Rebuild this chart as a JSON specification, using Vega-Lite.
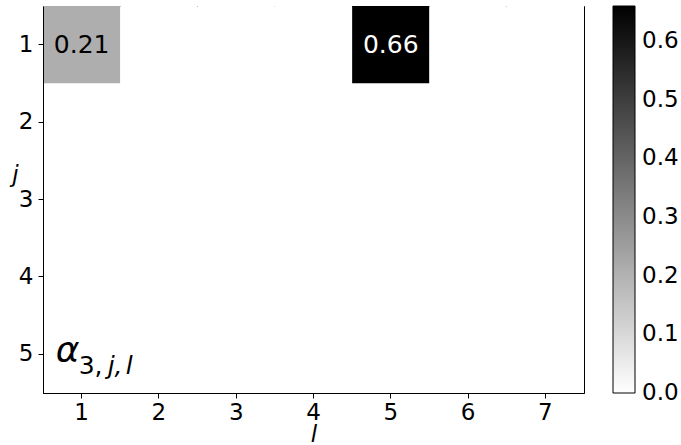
{
  "$schema": "https://vega.github.io/schema/vega-lite/v6.json",
  "width": 541,
  "height": 387,
  "autosize": "none",
  "padding": {"left": 43, "top": 6, "right": 97, "bottom": 52},
  "background": "white",
  "config": {
    "font": "DejaVu Sans",
    "view": {"stroke": "black", "strokeWidth": 1},
    "axis": {
      "labelFont": "DejaVu Sans",
      "titleFont": "DejaVu Sans",
      "labelFontSize": 23,
      "titleFontSize": 23,
      "labelColor": "black",
      "titleColor": "black",
      "domainColor": "black",
      "tickColor": "black",
      "tickSize": 5,
      "grid": false,
      "titleFontWeight": "normal"
    },
    "legend": {
      "labelFont": "DejaVu Sans",
      "labelFontSize": 23,
      "labelColor": "black"
    }
  },
  "datasets": {
    "cells": [
      {"l": 1, "j": 1, "v": 0.21}, {"l": 2, "j": 1, "v": 0}, {"l": 3, "j": 1, "v": 0}, {"l": 4, "j": 1, "v": 0}, {"l": 5, "j": 1, "v": 0.66}, {"l": 6, "j": 1, "v": 0}, {"l": 7, "j": 1, "v": 0},
      {"l": 1, "j": 2, "v": 0}, {"l": 2, "j": 2, "v": 0}, {"l": 3, "j": 2, "v": 0}, {"l": 4, "j": 2, "v": 0}, {"l": 5, "j": 2, "v": 0}, {"l": 6, "j": 2, "v": 0}, {"l": 7, "j": 2, "v": 0},
      {"l": 1, "j": 3, "v": 0}, {"l": 2, "j": 3, "v": 0}, {"l": 3, "j": 3, "v": 0}, {"l": 4, "j": 3, "v": 0}, {"l": 5, "j": 3, "v": 0}, {"l": 6, "j": 3, "v": 0}, {"l": 7, "j": 3, "v": 0},
      {"l": 1, "j": 4, "v": 0}, {"l": 2, "j": 4, "v": 0}, {"l": 3, "j": 4, "v": 0}, {"l": 4, "j": 4, "v": 0}, {"l": 5, "j": 4, "v": 0}, {"l": 6, "j": 4, "v": 0}, {"l": 7, "j": 4, "v": 0},
      {"l": 1, "j": 5, "v": 0}, {"l": 2, "j": 5, "v": 0}, {"l": 3, "j": 5, "v": 0}, {"l": 4, "j": 5, "v": 0}, {"l": 5, "j": 5, "v": 0}, {"l": 6, "j": 5, "v": 0}, {"l": 7, "j": 5, "v": 0}
    ]
  },
  "encoding": {
    "x": {
      "field": "l", "type": "ordinal",
      "scale": {"domain": [1, 2, 3, 4, 5, 6, 7], "paddingInner": 0, "paddingOuter": 0},
      "axis": {"title": "l", "labelAngle": 0, "labelPadding": 3, "titleFontStyle": "italic", "titleY": 48, "titleBaseline": "alphabetic"}
    },
    "y": {
      "field": "j", "type": "ordinal",
      "scale": {"domain": [1, 2, 3, 4, 5], "paddingInner": 0, "paddingOuter": 0},
      "axis": {"title": "j", "titleAngle": 0, "titleFontStyle": "italic", "titleX": -28, "titleY": 175, "titleAlign": "center", "titleBaseline": "alphabetic", "labelPadding": 5}
    }
  },
  "layer": [
    {
      "data": {"name": "cells"},
      "mark": {"type": "rect"},
      "encoding": {
        "color": {
          "field": "v", "type": "quantitative",
          "scale": {"domain": [0, 0.66], "range": ["#ffffff", "#000000"], "interpolate": "rgb"},
          "legend": {
            "title": null,
            "orient": "right",
            "offset": 29,
            "padding": 0,
            "gradientLength": 387,
            "gradientThickness": 22,
            "gradientStrokeColor": "black",
            "gradientStrokeWidth": 1,
            "values": [0, 0.1, 0.2, 0.3, 0.4, 0.5, 0.6],
            "format": ".1f",
            "labelOverlap": false,
            "labelOffset": 7,
            "encode": {"labels": {"update": {"baseline": {"value": "middle"}}}}
          }
        }
      }
    },
    {
      "data": {"name": "cells"},
      "transform": [{"filter": "datum.v > 0"}],
      "mark": {"type": "text", "fontSize": 25, "font": "DejaVu Sans", "baseline": "middle", "align": "center"},
      "encoding": {
        "text": {"field": "v", "type": "quantitative", "format": ".2f"},
        "color": {"condition": {"test": "datum.v > 0.4", "value": "white"}, "value": "black"}
      }
    },
    {
      "data": {"values": [{"l": 1, "j": 5, "t": "α"}]},
      "mark": {"type": "text", "fontSize": 36, "fontStyle": "italic", "font": "DejaVu Sans", "align": "left", "baseline": "alphabetic", "dx": -26, "dy": 8, "color": "black"},
      "encoding": {"text": {"field": "t"}}
    },
    {
      "data": {"values": [{"l": 1, "j": 5, "t": "3,"}]},
      "mark": {"type": "text", "fontSize": 25, "font": "DejaVu Sans", "align": "left", "baseline": "alphabetic", "dx": -3, "dy": 20, "color": "black"},
      "encoding": {"text": {"field": "t"}}
    },
    {
      "data": {"values": [{"l": 1, "j": 5, "t": "j,"}]},
      "mark": {"type": "text", "fontSize": 25, "fontStyle": "italic", "font": "DejaVu Sans", "align": "left", "baseline": "alphabetic", "dx": 26, "dy": 20, "color": "black"},
      "encoding": {"text": {"field": "t"}}
    },
    {
      "data": {"values": [{"l": 1, "j": 5, "t": "l"}]},
      "mark": {"type": "text", "fontSize": 25, "fontStyle": "italic", "font": "DejaVu Sans", "align": "left", "baseline": "alphabetic", "dx": 44, "dy": 20, "color": "black"},
      "encoding": {"text": {"field": "t"}}
    }
  ]
}
